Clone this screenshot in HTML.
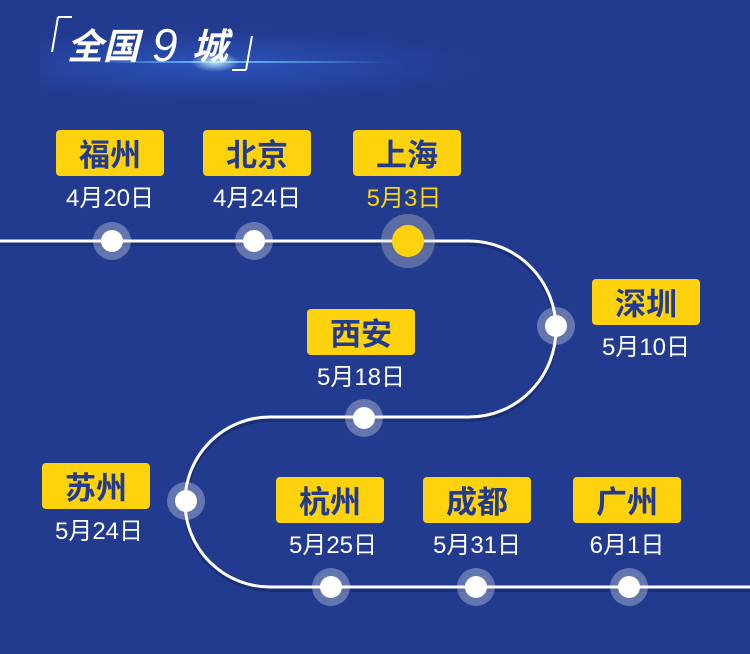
<!DOCTYPE html>
<html><head><meta charset="utf-8"><style>
body{margin:0;width:750px;height:654px;overflow:hidden;background:#223b8f;font-family:"Liberation Sans","Noto Sans CJK SC",sans-serif;position:relative}
.b{position:absolute;width:108px;height:46px;background:#ffd20e;border-radius:4px;color:#223b8f;font-weight:bold;font-size:31px;line-height:46px;text-align:center;font-family:"Noto Sans CJK SC",sans-serif}
.d{position:absolute;width:140px;text-align:center;color:#fff;font-size:24px;line-height:26px}
</style></head><body>
<div style="position:absolute;left:40px;top:30px;width:440px;height:70px;background:radial-gradient(ellipse at 40% 50%,rgba(50,100,220,0.55),rgba(34,59,143,0) 70%)"></div>
<div style="position:absolute;left:90px;top:61px;width:300px;height:2px;background:linear-gradient(90deg,rgba(80,160,255,0),#6cc3ff 42%,rgba(80,160,255,0))"></div>
<div style="position:absolute;left:190px;top:52px;width:50px;height:20px;background:radial-gradient(ellipse,rgba(200,240,255,0.95),rgba(60,150,255,0) 70%)"></div>
<svg width="750" height="654" style="position:absolute;left:0;top:0">
<path d="M58 17 L52 52 M58 17 L72 17 M252 36 L246 70 M246 70 L232 70" stroke="#fff" stroke-width="2" fill="none"/>
<text x="67" y="59" fill="#fff" font-size="36" font-weight="bold" font-style="italic" font-family="Noto Sans CJK SC,sans-serif">全国</text>
<text x="152" y="61" fill="#fff" font-size="46" font-style="italic" font-family="Liberation Sans,sans-serif">9</text>
<text x="192" y="59" fill="#fff" font-size="36" font-weight="bold" font-style="italic" font-family="Noto Sans CJK SC,sans-serif">城</text>
<path d="M0 244 H469 A87 88 0 0 1 469 420 H270 A85 85 0 0 0 270 590 H750" stroke="#1a2f75" stroke-width="4" fill="none"/>
<path d="M0 241 H469 A87 88 0 0 1 469 417 H270 A85 85 0 0 0 270 587 H750" stroke="#fff" stroke-width="3" fill="none"/>
<g fill="rgba(255,255,255,0.3)">
<circle cx="112" cy="241" r="19"/><circle cx="254" cy="241" r="19"/><circle cx="556" cy="326" r="19"/><circle cx="364" cy="418" r="19"/><circle cx="186" cy="501" r="19"/><circle cx="331" cy="587" r="19"/><circle cx="476" cy="587" r="19"/><circle cx="629" cy="587" r="19"/>
</g>
<circle cx="408" cy="241" r="27" fill="rgba(200,200,200,0.35)"/>
<g fill="#fff">
<circle cx="112" cy="241" r="11"/><circle cx="254" cy="241" r="11"/><circle cx="556" cy="326" r="11"/><circle cx="364" cy="418" r="11"/><circle cx="186" cy="501" r="11"/><circle cx="331" cy="587" r="11"/><circle cx="476" cy="587" r="11"/><circle cx="629" cy="587" r="11"/>
</g>
<circle cx="408" cy="241" r="16" fill="#ffd20e"/>
</svg>
<div class="b" style="left:56px;top:130px">福州</div><div class="d" style="left:40px;top:186px">4月20日</div>
<div class="b" style="left:203px;top:130px">北京</div><div class="d" style="left:187px;top:186px">4月24日</div>
<div class="b" style="left:353px;top:130px">上海</div><div class="d" style="left:334px;top:186px;color:#ffd20e">5月3日</div>
<div class="b" style="left:592px;top:279px">深圳</div><div class="d" style="left:576px;top:335px">5月10日</div>
<div class="b" style="left:307px;top:309px">西安</div><div class="d" style="left:291px;top:365px">5月18日</div>
<div class="b" style="left:42px;top:463px">苏州</div><div class="d" style="left:29px;top:519px">5月24日</div>
<div class="b" style="left:276px;top:477px">杭州</div><div class="d" style="left:263px;top:533px">5月25日</div>
<div class="b" style="left:423px;top:477px">成都</div><div class="d" style="left:407px;top:533px">5月31日</div>
<div class="b" style="left:573px;top:477px">广州</div><div class="d" style="left:557px;top:533px">6月1日</div>
</body></html>
